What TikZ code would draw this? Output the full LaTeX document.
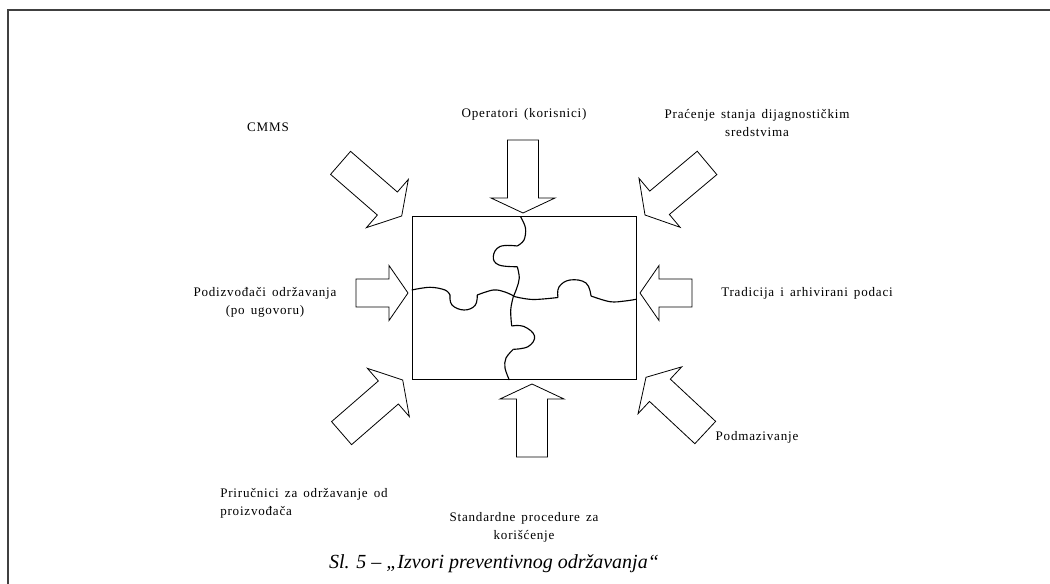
\documentclass[tikz,border=0pt]{standalone}
\usepackage{fontspec}
\setmainfont{Liberation Serif}
\newfontfamily\lblfont[LetterSpace=6, WordSpace=1.5]{Liberation Serif}
\begin{document}
\begin{tikzpicture}[x=0.75pt,y=-0.75pt,
  lbl/.style={font=\lblfont\fontsize{9.8}{13.6}\selectfont, inner sep=0pt, align=center},
  blk/.style={draw=black, line width=0.6pt, fill=white, line join=miter},
  pz/.style={draw=black, line width=0.85pt},
  frameline/.style={draw=black!75, line width=1.5pt}]
\useasboundingbox (0,0) rectangle (1050,584);
% frame
\draw[frameline] (7.5,584) -- (7.5,10) -- (1050,10);
% block arrow: #1 tip, #2 rotation, #3 shaft length, #4 shaft width, #5 head length, #6 head width
\newcommand\blockarrow[6]{%
  \begin{scope}[shift={#1}, rotate=#2]
    \draw[blk] (0,0) -- (-#5,#6/2) -- (-#5,#4/2) -- (-#5-#3,#4/2) -- (-#5-#3,-#4/2) -- (-#5,-#4/2) -- (-#5,-#6/2) -- cycle;
  \end{scope}}
\blockarrow{(523,213)}{-90}{58}{31}{15}{64}
\blockarrow{(532,384)}{90}{58}{31}{15}{64}
\blockarrow{(408,293)}{0}{33}{28}{19}{55}
\blockarrow{(640,293)}{180}{33}{28}{19}{55}
\blockarrow{(401.7,216)}{-41}{62}{30.5}{19}{64}
\blockarrow{(645,215)}{-140}{62}{30.5}{19}{64}
\blockarrow{(402.7,380)}{41}{62}{30.5}{19}{64}
\blockarrow{(646,377.3)}{137}{62}{30.5}{19}{64}
% puzzle
\node[draw=black, line width=0.75pt, minimum width=224*0.75pt, minimum height=163*0.75pt, inner sep=0pt] (box) at (524,298.5) {};
\draw[pz] plot[smooth, tension=0.6] coordinates {(520.7,217) (525.5,228) (524,240) (517.3,246)};
\draw[pz] plot[smooth, tension=0.7] coordinates {(517.3,246) (500,246.5) (493.3,256.7) (499,265) (517.3,266.7)};
\draw[pz] plot[smooth, tension=0.6] coordinates {(517.3,266.7) (519.3,278) (516.7,288.3) (513.3,296.7)};
\draw[pz] plot[smooth, tension=0.6] coordinates {(513.3,296.7) (510.7,310) (511.7,326)};
\draw[pz] plot[smooth, tension=0.7] coordinates {(511.7,326) (524,326.5) (534.5,336) (528.3,346.5) (513.3,349.3)};
\draw[pz] plot[smooth, tension=0.6] coordinates {(513.3,349.3) (506,358) (505,368) (509.3,380)};
\draw[pz] plot[smooth, tension=0.6] coordinates {(411.7,290) (430,287.3) (445,290) (450,295)};
\draw[pz] plot[smooth, tension=0.7] coordinates {(450,295) (452,305) (464,310) (475,305.5) (477.3,295)};
\draw[pz] plot[smooth, tension=0.6] coordinates {(477.3,295) (493.3,290) (505,292) (515,296.7)};
\draw[pz] plot[smooth, tension=0.6] coordinates {(515,296.7) (533,299.5) (558,297.5)};
\draw[pz] plot[smooth, tension=0.7] coordinates {(558,297.5) (559,287) (570,280) (586,283) (591,296)};
\draw[pz] plot[smooth, tension=0.6] coordinates {(591,296) (610,301.7) (625,301) (636,299.3)};
% labels
\node[lbl] (cmms) at (268,127) {CMMS};
\node[lbl] (oper) at (524,114) {Operatori (korisnici)};
\node[lbl] (prac) at (757,123) {Praćenje stanja dijagnostičkim\\sredstvima};
\node[lbl] (podi) at (265,302) {Podizvođači održavanja\\(po ugovoru)};
\node[lbl] (trad) at (807,293) {Tradicija i arhivirani podaci};
\node[lbl] (podm) at (757,437) {Podmazivanje};
\node[lbl, align=left, anchor=west] (prir) at (220,503) {Priručnici za održavanje od\\proizvođača};
\node[lbl] (stan) at (524,527) {Standardne procedure za\\korišćenje};
\node[font=\fontsize{15}{18}\selectfont\itshape, inner sep=0pt] (cap) at (494,564) {Sl. 5 – „Izvori preventivnog održavanja“};
\end{tikzpicture}
\end{document}
